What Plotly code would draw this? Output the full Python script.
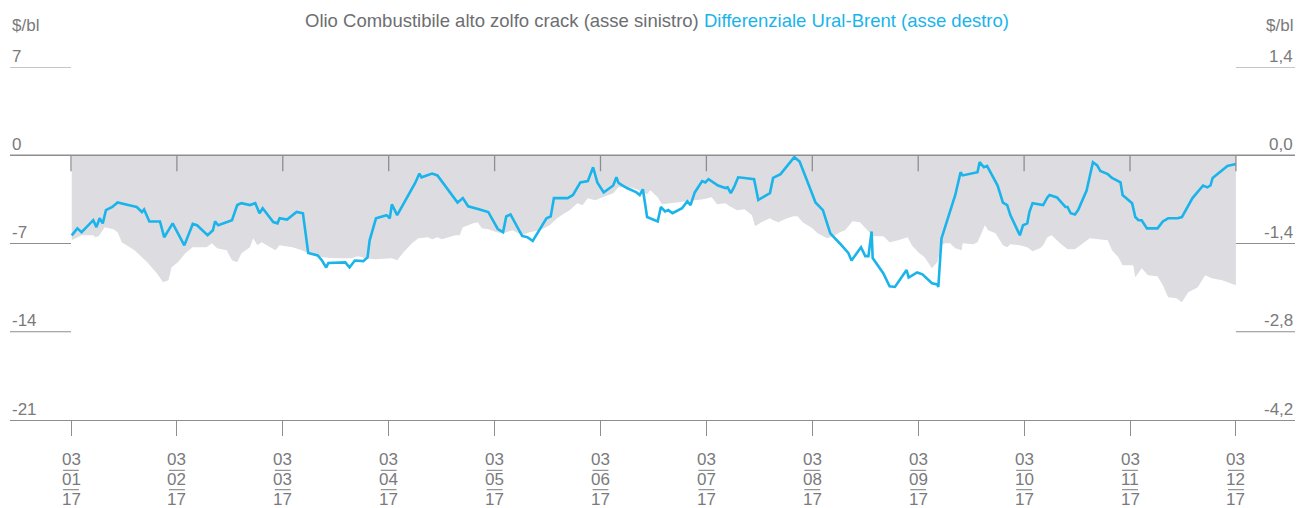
import plotly.graph_objects as go

# Time expressed in months elapsed since 03/01/17 (axis is evenly spaced by month)
t_olio = [0.007, 0.10, 0.21, 0.23, 0.26, 0.32, 0.40, 0.44, 0.48, 0.53, 0.60, 0.72, 0.81, 0.87, 0.92, 0.95,
          1.01, 1.08, 1.15, 1.28, 1.33, 1.38, 1.47, 1.52, 1.57, 1.61, 1.69, 1.72, 1.76, 1.80, 1.93, 1.97,
          2.09, 2.18, 2.24, 2.37, 2.49, 2.65, 2.71, 2.78, 2.87, 3.03, 3.08, 3.14, 3.22, 3.28, 3.37, 3.41,
          3.46, 3.50, 3.56, 3.63, 3.67, 3.70, 3.80, 3.84, 3.88, 3.94, 4.02, 4.08, 4.17, 4.26, 4.33, 4.43,
          4.52, 4.59, 4.66, 4.71, 4.78, 4.83, 4.88, 4.95, 5.02, 5.12, 5.17, 5.28, 5.34, 5.39, 5.44, 5.47,
          5.54, 5.58, 5.66, 5.78, 5.84, 5.97, 6.05, 6.10, 6.18, 6.22, 6.29, 6.36, 6.43, 6.46, 6.52, 6.60,
          6.63, 6.68, 6.74, 6.82, 6.86, 6.91, 7.00, 7.05, 7.14, 7.20, 7.26, 7.31, 7.38, 7.45, 7.52, 7.57,
          7.67, 7.73, 7.81, 7.90, 7.94, 8.00, 8.06, 8.13, 8.18, 8.22, 8.25, 8.30, 8.35, 8.41, 8.42, 8.52,
          8.56, 8.63, 8.66, 8.73, 8.80, 8.84, 8.87, 8.96, 9.03, 9.08, 9.15, 9.18, 9.22, 9.26, 9.34, 9.41,
          9.48, 9.56, 9.62, 9.70, 9.79, 9.83, 9.89, 9.93, 10.03, 10.05, 10.11, 10.17, 10.26, 10.31, 10.36,
          10.44, 10.49, 10.55, 10.64, 10.71, 10.77, 10.87, 11.00]
olio_crack = [-6.74, -6.35, -6.35, -6.50, -6.42, -5.71, -5.87, -6.11, -6.90, -7.14, -7.54, -8.49, -9.36, -10.07, -9.92, -8.88,
              -8.49, -7.77, -7.30, -7.30, -6.98, -7.38, -7.54, -8.33, -8.49, -7.77, -7.30, -6.58, -7.14, -6.90, -7.54, -7.14,
              -7.30, -7.54, -7.77, -8.09, -8.17, -8.17, -8.01, -8.17, -8.25, -8.17, -8.33, -7.69, -6.98, -6.58, -6.50, -6.66,
              -6.50, -6.66, -6.50, -6.35, -6.35, -5.71, -5.39, -5.31, -5.79, -5.87, -6.11, -6.19, -5.95, -6.35, -6.11, -5.95,
              -5.55, -5.00, -4.60, -4.36, -3.81, -3.97, -3.41, -3.57, -3.33, -3.01, -2.54, -2.54, -2.70, -2.93, -3.10, -2.78,
              -3.33, -3.89, -3.81, -3.73, -3.65, -3.49, -3.33, -3.89, -3.81, -4.05, -4.36, -4.28, -4.76, -5.63, -5.31, -5.00,
              -5.16, -5.31, -5.08, -4.84, -4.84, -5.31, -5.79, -6.19, -6.58, -6.42, -6.11, -5.95, -5.24, -5.31, -5.95, -6.42,
              -6.42, -6.90, -6.74, -6.50, -7.14, -7.69, -8.09, -8.96, -8.49, -7.14, -6.98, -6.98, -7.38, -7.54, -6.98, -7.06,
              -6.90, -5.55, -5.95, -6.19, -7.14, -7.30, -7.06, -7.14, -7.30, -7.61, -7.38, -7.14, -6.50, -6.35, -6.98, -7.46,
              -7.46, -6.98, -6.58, -6.66, -6.74, -7.54, -8.09, -8.73, -8.73, -9.68, -8.96, -9.52, -9.60, -10.31, -11.26,
              -11.34, -11.66, -10.87, -10.47, -9.52, -9.76, -9.92, -10.31]

t_ural = [0.007, 0.06, 0.10, 0.21, 0.24, 0.27, 0.30, 0.33, 0.39, 0.44, 0.54, 0.62, 0.67, 0.69, 0.74, 0.84,
          0.88, 0.91, 0.96, 1.07, 1.15, 1.19, 1.29, 1.34, 1.36, 1.39, 1.52, 1.57, 1.61, 1.69, 1.74, 1.78,
          1.81, 1.91, 1.95, 1.97, 2.04, 2.13, 2.19, 2.24, 2.33, 2.37, 2.41, 2.43, 2.56, 2.59, 2.63, 2.68,
          2.76, 2.80, 2.82, 2.88, 2.98, 3.01, 3.03, 3.08, 3.25, 3.29, 3.31, 3.41, 3.46, 3.53, 3.63, 3.65,
          3.70, 3.75, 3.86, 3.94, 4.03, 4.08, 4.11, 4.15, 4.26, 4.31, 4.36, 4.49, 4.53, 4.56, 4.69, 4.74,
          4.81, 4.88, 4.93, 4.97, 5.03, 5.12, 5.15, 5.17, 5.21, 5.25, 5.34, 5.37, 5.40, 5.44, 5.54, 5.57,
          5.61, 5.64, 5.68, 5.77, 5.82, 5.85, 5.89, 5.96, 5.99, 6.02, 6.11, 6.18, 6.20, 6.23, 6.26, 6.30,
          6.36, 6.45, 6.49, 6.60, 6.63, 6.67, 6.70, 6.83, 6.86, 6.88, 6.95, 7.03, 7.10, 7.17, 7.26, 7.34,
          7.37, 7.46, 7.50, 7.53, 7.56, 7.57, 7.67, 7.73, 7.78, 7.89, 7.91, 7.99, 8.04, 8.13, 8.18, 8.19,
          8.22, 8.35, 8.40, 8.42, 8.56, 8.58, 8.62, 8.65, 8.75, 8.80, 8.84, 8.87, 8.96, 8.99, 9.03, 9.05,
          9.08, 9.18, 9.22, 9.24, 9.31, 9.39, 9.41, 9.44, 9.48, 9.51, 9.59, 9.65, 9.69, 9.72, 9.79, 9.83,
          9.91, 9.93, 10.02, 10.05, 10.08, 10.11, 10.16, 10.26, 10.31, 10.36, 10.45, 10.49, 10.59, 10.69,
          10.73, 10.76, 10.78, 10.92, 11.00]
ural_brent = [-1.27, -1.16, -1.22, -1.03, -1.14, -1.00, -1.08, -0.87, -0.82, -0.75, -0.79, -0.82, -0.90, -0.86, -1.05, -1.05,
              -1.30, -1.22, -1.08, -1.43, -1.09, -1.11, -1.27, -1.19, -1.05, -1.11, -1.03, -0.79, -0.76, -0.79, -0.76, -0.92,
              -0.84, -1.06, -1.08, -1.00, -1.02, -0.90, -0.92, -1.55, -1.59, -1.67, -1.78, -1.71, -1.71, -1.70, -1.78, -1.67,
              -1.68, -1.62, -1.35, -1.00, -0.95, -1.00, -0.78, -0.95, -0.44, -0.29, -0.35, -0.29, -0.32, -0.48, -0.71, -0.75,
              -0.68, -0.81, -0.86, -0.90, -1.17, -1.22, -0.97, -0.94, -1.28, -1.30, -1.36, -1.00, -0.97, -0.68, -0.68, -0.63,
              -0.43, -0.41, -0.19, -0.43, -0.59, -0.48, -0.35, -0.44, -0.48, -0.52, -0.59, -0.63, -0.54, -0.98, -1.05, -0.82,
              -0.89, -0.87, -0.92, -0.84, -0.73, -0.79, -0.59, -0.41, -0.43, -0.38, -0.48, -0.52, -0.51, -0.60, -0.51, -0.35,
              -0.36, -0.38, -0.71, -0.60, -0.36, -0.32, -0.30, -0.03, -0.08, -0.10, -0.40, -0.75, -0.87, -1.24, -1.40, -1.55,
              -1.67, -1.46, -1.60, -1.60, -1.21, -1.63, -1.87, -2.08, -2.09, -1.82, -1.94, -1.86, -1.89, -2.03, -2.05, -2.09,
              -1.32, -0.63, -0.27, -0.32, -0.27, -0.11, -0.19, -0.17, -0.48, -0.75, -0.79, -0.95, -1.27, -1.11, -1.08, -0.90,
              -0.76, -0.79, -0.67, -0.63, -0.67, -0.82, -0.82, -0.92, -0.94, -0.87, -0.56, -0.11, -0.16, -0.25, -0.30, -0.36,
              -0.43, -0.63, -0.76, -0.98, -1.03, -1.03, -1.16, -1.16, -1.05, -1.00, -1.00, -0.98, -0.68, -0.48,
              -0.51, -0.48, -0.36, -0.17, -0.14]

month_pos = list(range(12))
day_labels = ["03"] * 12
month_labels = ["01", "02", "03", "04", "05", "06", "07", "08", "09", "10", "11", "12"]
year_labels = ["17"] * 12

left_ticks = [7, 0, -7, -14, -21]
left_text = ["7", "0", "-7", "-14", "-21"]
right_text = ["1,4", "0,0", "-1,4", "-2,8", "-4,2"]

GRAY_TXT = "#7a7a7c"
LINE = "#8e8e90"
FILL = "#dddde1"
BLUE = "#1ab4ea"
FONT = "Liberation Sans"
FS = 17

X0, X1 = -0.576, 11.558

fig = go.Figure()
fig.add_trace(go.Scatter(x=t_olio, y=olio_crack, mode="lines", fill="tozeroy",
                         fillcolor=FILL, line=dict(width=0, color=FILL), yaxis="y",
                         hoverinfo="skip", showlegend=False))
fig.add_trace(go.Scatter(x=t_ural, y=ural_brent, mode="lines",
                         line=dict(width=2.6, color=BLUE), yaxis="y2", showlegend=False))

shapes = []
shapes.append(dict(type="line", xref="paper", yref="y", x0=0, x1=1, y0=0, y1=0,
                   line=dict(color=LINE, width=1.3), layer="above"))
for v in [7, -7, -14]:
    shapes.append(dict(type="line", xref="x", yref="y", x0=X0, x1=0, y0=v, y1=v,
                       line=dict(color=LINE, width=1)))
    shapes.append(dict(type="line", xref="x", yref="y", x0=11, x1=X1, y0=v, y1=v,
                       line=dict(color=LINE, width=1)))
for m in month_pos:
    shapes.append(dict(type="line", xref="x", yref="y", x0=m, x1=m, y0=0, y1=-1.27,
                       line=dict(color=LINE, width=1.3), layer="above"))
    for yy in (-0.1425, -0.1975):
        shapes.append(dict(type="line", xref="x", yref="paper", x0=m - 0.075, x1=m + 0.075,
                           y0=yy, y1=yy, line=dict(color=GRAY_TXT, width=1)))

ann = []
for v, lt, rt in zip(left_ticks, left_text, right_text):
    ann.append(dict(xref="paper", yref="y", x=0, y=v, yshift=11, text=lt, showarrow=False,
                    xanchor="left", yanchor="middle", font=dict(size=FS, color=GRAY_TXT, family=FONT)))
    ann.append(dict(xref="paper", yref="y", x=1, y=v, yshift=11, text=rt, showarrow=False,
                    xanchor="right", yanchor="middle", font=dict(size=FS, color=GRAY_TXT, family=FONT)))
for m, d, mo, yr in zip(month_pos, day_labels, month_labels, year_labels):
    for txt, yy in ((d, -0.111), (mo, -0.169), (yr, -0.224)):
        ann.append(dict(xref="x", yref="paper", x=m, y=yy, text=txt, showarrow=False,
                        xanchor="center", yanchor="middle",
                        font=dict(size=FS, color=GRAY_TXT, family=FONT)))
for xp, xa in ((0, "left"), (1, "right")):
    ann.append(dict(xref="paper", yref="paper", x=xp, y=1.118, text="$/bl", showarrow=False,
                    xanchor=xa, yanchor="middle", font=dict(size=FS, color=GRAY_TXT, family=FONT)))
ann.append(dict(xref="paper", yref="paper", x=0.5035, y=1.131, showarrow=False,
                text=("<span style='color:#6d6e71'>Olio Combustibile alto zolfo crack (asse sinistro)</span> "
                      "<span style='color:" + BLUE + "'>Differenziale Ural-Brent (asse destro)</span>"),
                xanchor="center", yanchor="middle", font=dict(size=18.5, family=FONT)))

fig.update_layout(
    width=1297, height=508,
    margin=dict(l=10, r=2, t=67, b=88),
    paper_bgcolor="white", plot_bgcolor="white",
    xaxis=dict(range=[X0, X1], tickvals=month_pos, ticktext=[""] * 12, ticks="outside",
               ticklen=15, tickwidth=1.3, tickcolor=LINE, showgrid=False, zeroline=False,
               showline=True, linecolor=LINE, linewidth=1.3, fixedrange=True),
    yaxis=dict(range=[-21, 7], showticklabels=False, showgrid=False, zeroline=False, ticks="",
               fixedrange=True),
    yaxis2=dict(range=[-4.2, 1.4], overlaying="y", side="right", showticklabels=False,
                showgrid=False, zeroline=False, ticks="", fixedrange=True),
    shapes=shapes, annotations=ann, showlegend=False,
)
fig.write_html("out.html", config={"displayModeBar": False},
               post_script="document.body.style.margin='0';document.body.style.overflow='hidden';")
